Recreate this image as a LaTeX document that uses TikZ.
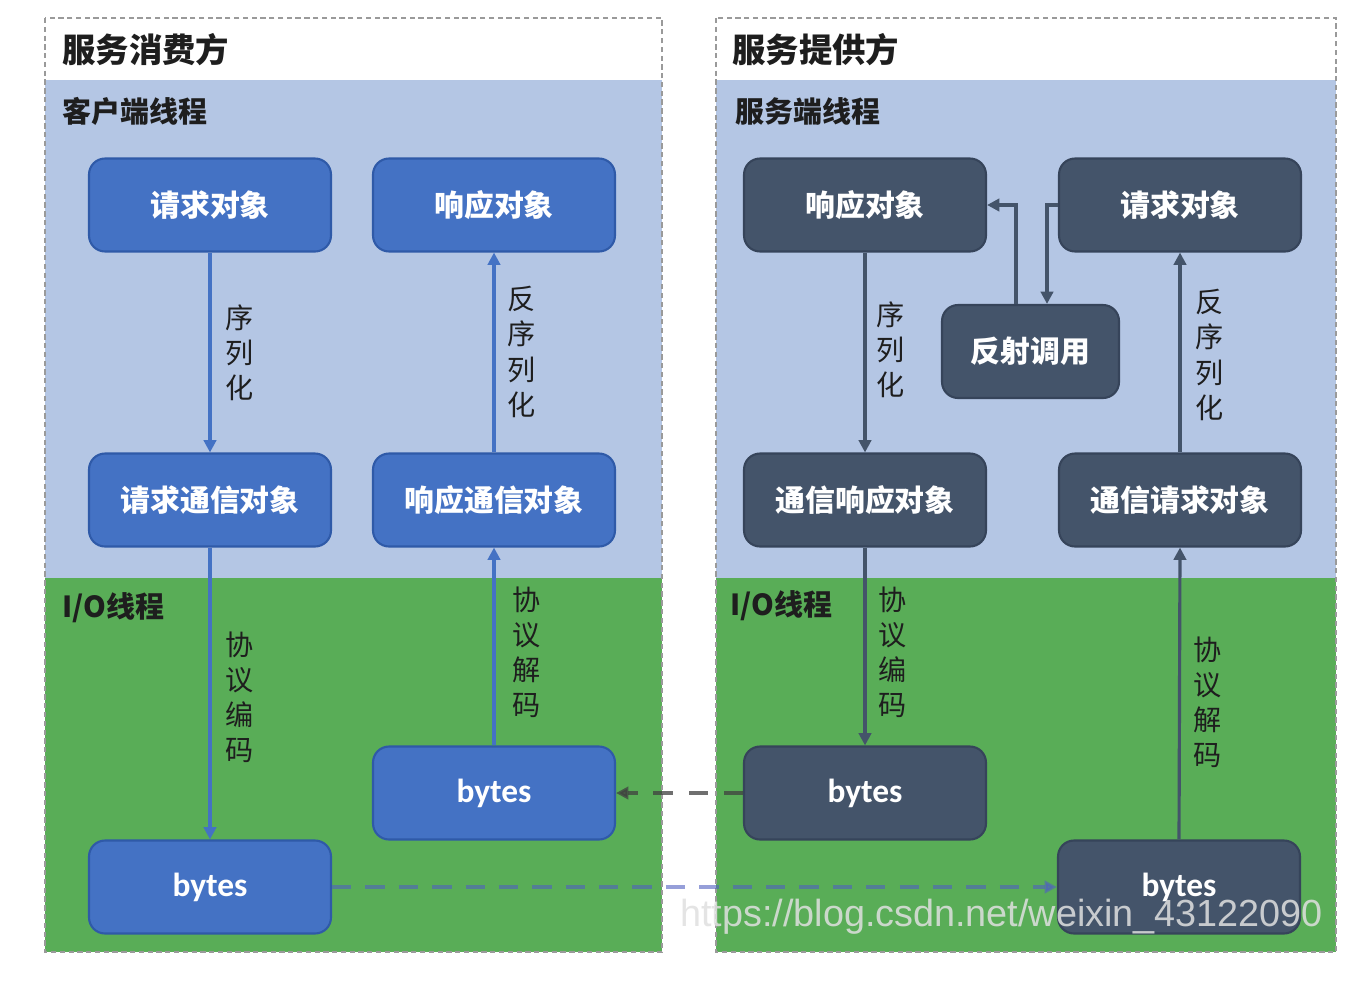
\documentclass[tikz,border=0pt]{standalone}
\usepackage{fontspec}
\setmainfont{Noto Sans CJK SC}
\newfontfamily\cjk{Noto Sans CJK SC}
\newfontfamily\latinb{Carlito}
\newfontfamily\wmfont{Liberation Sans}
\usetikzlibrary{arrows.meta}
\definecolor{bgblue}{HTML}{B4C6E4}
\definecolor{bggreen}{HTML}{59AD57}
\definecolor{nblue}{HTML}{4472C4}
\definecolor{nblueb}{HTML}{2F5AA8}
\definecolor{ndark}{HTML}{44546A}
\definecolor{ndarkb}{HTML}{36445A}
\definecolor{txt}{HTML}{1E1E1E}
\definecolor{frame}{HTML}{9A9A9A}
\definecolor{dashblue}{HTML}{5060C0}
\tikzset{
  boxbase/.style={rounded corners=0.32cm, minimum width=4.84cm, minimum height=1.86cm, line width=1.2pt, text=white, font=\cjk\bfseries\fontsize{17}{20}\selectfont, inner sep=0pt},
  bluebox/.style={boxbase, fill=nblue, draw=nblueb},
  darkbox/.style={boxbase, fill=ndark, draw=ndarkb},
  bytesfont/.style={font=\latinb\bfseries\fontsize{19}{22}\selectfont},
  outerframe/.style={draw=frame, line width=1pt, dash pattern=on 3pt off 2pt},
  blueflow/.style={draw=nblue, line width=1.8pt, -{Triangle[length=7pt,width=7pt]}},
  darkflow/.style={draw=ndark, line width=1.8pt, -{Triangle[length=7pt,width=7pt]}},
  vlabel/.style={text=txt, font=\cjk\fontsize{16}{20}\selectfont, align=center, inner sep=0pt},
  title/.style={text=txt, font=\cjk\bfseries\fontsize{19}{22}\selectfont, anchor=west, inner sep=0pt},
  subtitle/.style={text=txt, font=\cjk\bfseries\fontsize{16.5}{20}\selectfont, anchor=west, inner sep=0pt},
}
\begin{document}
\begin{tikzpicture}[x=0.02cm,y=-0.02cm]
\useasboundingbox (0,0) rectangle (1368,980);
\fill[white] (0,0) rectangle (1368,980);
% backgrounds
\fill[bgblue] (45,80) rectangle (662,578);
\fill[bggreen] (45,578) rectangle (662,952);
\fill[bgblue] (716,80) rectangle (1336,578);
\fill[bggreen] (716,578) rectangle (1336,952);
\draw[outerframe] (45,18) rectangle (662,952);
\draw[outerframe] (716,18) rectangle (1336,952);
% titles
\node[title] (t1) at (62,50) {服务消费方};
\node[title] (t2) at (732,50) {服务提供方};
\node[subtitle] (s1) at (62,111) {客户端线程};
\node[subtitle] (s2) at (735,111) {服务端线程};
\node[subtitle] (io1) at (62,608) {I/O线程};
\node[subtitle] (io2) at (730,606) {I/O线程};
% left nodes
\node[bluebox] (creq) at (210,205) {请求对象};
\node[bluebox] (cresp) at (494,205) {响应对象};
\node[bluebox] (creqc) at (210,500) {请求通信对象};
\node[bluebox] (crespc) at (494,500) {响应通信对象};
\node[bluebox, bytesfont] (cb1) at (210,887) {bytes};
\node[bluebox, bytesfont] (cb2) at (494,793) {bytes};
% right nodes
\node[darkbox] (sresp) at (865,205) {响应对象};
\node[darkbox] (sreq) at (1180,205) {请求对象};
\node[darkbox, minimum width=3.54cm] (refl) at (1030.5,351.5) {反射调用};
\node[darkbox] (sresc) at (865,500) {通信响应对象};
\node[darkbox] (sreqc) at (1180,500) {通信请求对象};
\node[darkbox, bytesfont] (sb1) at (865,793) {bytes};
\node[darkbox, bytesfont] (sb2) at (1179,887) {bytes};
% left arrows
\draw[blueflow] (creq) -- (creqc);
\draw[blueflow] (creqc) -- (cb1);
\draw[blueflow] (cb2) -- (crespc);
\draw[blueflow] (crespc) -- (cresp);
% right arrows
\draw[darkflow] (sresp) -- (sresc);
\draw[darkflow] (sresc) -- (sb1);
\draw[darkflow] (sb2.north) -- (sreqc.south);
\draw[darkflow] (sreqc) -- (sreq);
\coordinate (rin) at (1047,205);
\coordinate (rout) at (1016,205);
\draw[darkflow] (sreq.west) -- (rin) -- (rin |- refl.north);
\draw[darkflow] (rout |- refl.north) -- (rout) -- (sresp.east);
% labels
\node[vlabel] (l1) at (240,353) {序\\列\\化};
\node[vlabel] (l2) at (522,352) {反\\序\\列\\化};
\node[vlabel] (l3) at (240,697) {协\\议\\编\\码};
\node[vlabel] (l4) at (527,652) {协\\议\\解\\码};
\node[vlabel] (l5) at (891,350) {序\\列\\化};
\node[vlabel] (l6) at (893,652) {协\\议\\编\\码};
\node[vlabel] (l7) at (1210,355) {反\\序\\列\\化};
\node[vlabel] (l8) at (1208,702) {协\\议\\解\\码};
% cross connectors
\draw[draw=black!75, opacity=0.75, line width=2.4pt, dash pattern=on 11pt off 9pt, -{Triangle[length=7pt,width=7pt]}] (sb1.west) -- (cb2.east);
\draw[draw=dashblue, opacity=0.6, line width=2.4pt, dash pattern=on 11pt off 8pt, -{Triangle[length=7pt,width=7pt]}] (cb1.east) -- (sb2.west);
% watermark
\node[anchor=west, inner sep=0pt, text=white!88!black, opacity=0.85, font=\wmfont\fontsize{21.5}{24}\selectfont] (wm) at (680,917) {https://blog.csdn.net/weixin\_43122090};
\end{tikzpicture}
\end{document}
